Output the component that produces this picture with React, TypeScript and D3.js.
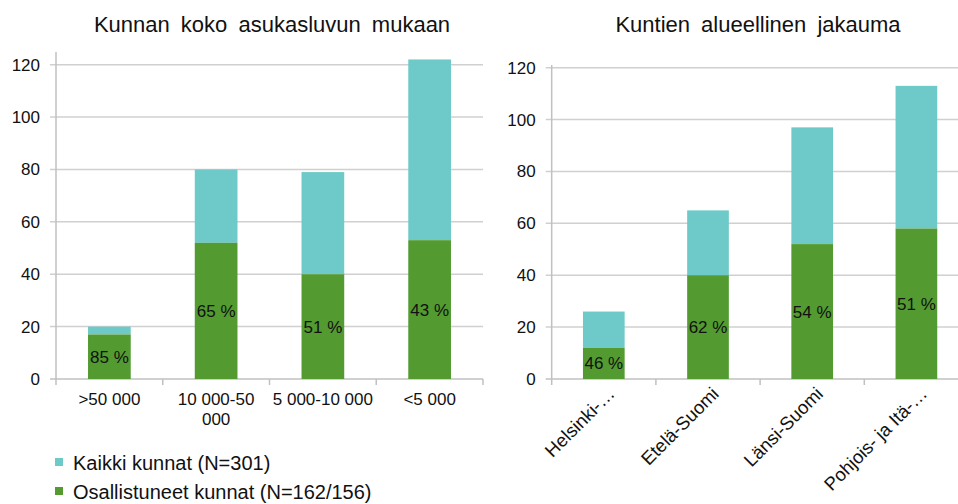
import React from "react";
import * as d3 from "d3";

const leftCategories = [">50 000", "10 000-50\n000", "5 000-10 000", "<5 000"];
const leftAll = [20, 80, 79, 122];
const leftPart = [17, 52, 40, 53];
const leftPct = ["85 %", "65 %", "51 %", "43 %"];

const rightCategories = ["Helsinki-…", "Etelä-Suomi", "Länsi-Suomi", "Pohjois- ja Itä-…"];
const rightAll = [26, 65, 97, 113];
const rightPart = [12, 40, 52, 58];
const rightPct = ["46 %", "62 %", "54 %", "51 %"];

const yTicks = [0, 20, 40, 60, 80, 100, 120];
const titles = ["Kunnan koko asukasluvun mukaan", "Kuntien alueellinen jakauma"];
const legendLabels = ["Kaikki kunnat (N=301)", "Osallistuneet kunnat (N=162/156)"];

const TEAL = "#6dcac8";
const GREEN = "#539b30";
const GRID = "#d0d0d0";
const AXIS = "#c0c0c0";
const FONT = "'Liberation Sans', Arial, sans-serif";

type PanelProps = {
  cats: string[];
  all: number[];
  part: number[];
  pct: string[];
  x0: number;
  x1: number;
  y0: number;
  y120: number;
  axisTop: number;
  gridRight: number;
  rotated: boolean;
  title: string;
  titleX: number;
};

function Panel(p: PanelProps) {
  const y = d3.scaleLinear().domain([0, 120]).range([p.y0, p.y120]);
  const x = d3.scaleBand<string>().domain(p.cats).range([p.x0, p.x1]).paddingInner(0.6).paddingOuter(0.3);
  const step = x.step();
  const boundaries = d3.range(p.cats.length + 1).map((i) => p.x0 + i * step);
  return (
    <g>
      <text x={p.titleX} y={32} textAnchor="middle" fontSize={22} fill="#111" style={{ wordSpacing: "5px" }}>
        {p.title}
      </text>
      {yTicks.map((t) => (
        <g key={t}>
          <line x1={p.x0 - 6} x2={p.gridRight} y1={y(t)} y2={y(t)} stroke={t === 0 ? AXIS : GRID} strokeWidth={1.5} />
          <text x={p.x0 - 16} y={y(t) + 6} textAnchor="end" fontSize={17} fill="#111">
            {t}
          </text>
        </g>
      ))}
      <line x1={p.x0} x2={p.x0} y1={p.axisTop} y2={p.y0} stroke={AXIS} strokeWidth={1.5} />
      {boundaries.map((b, i) => (
        <line key={i} x1={b} x2={b} y1={p.y0} y2={p.y0 + 6} stroke={AXIS} strokeWidth={1.5} />
      ))}
      {p.cats.map((c, i) => {
        const bx = x(c) as number;
        const bw = x.bandwidth();
        return (
          <g key={c}>
            <rect x={bx} y={y(p.all[i])} width={bw} height={y(p.part[i]) - y(p.all[i])} fill={TEAL} />
            <rect x={bx} y={y(p.part[i])} width={bw} height={y(0) - y(p.part[i])} fill={GREEN} />
            <text x={bx + bw / 2} y={(y(0) + y(p.part[i])) / 2 + 6} textAnchor="middle" fontSize={17} fill="#111">
              {p.pct[i]}
            </text>
          </g>
        );
      })}
      {p.cats.map((c, i) => {
        const cx = (x(c) as number) + x.bandwidth() / 2;
        if (p.rotated) {
          return (
            <text key={c} transform={`translate(${cx + 12},${p.y0 + 16}) rotate(-45)`} textAnchor="end" fontSize={18.5} fill="#111">
              {c}
            </text>
          );
        }
        const lines = c.split("\n");
        return (
          <text key={c} textAnchor="middle" fontSize={17} fill="#111">
            {lines.map((l, j) => (
              <tspan key={j} x={cx} y={p.y0 + 26 + j * 20}>
                {l}
              </tspan>
            ))}
          </text>
        );
      })}
    </g>
  );
}

export default function App() {
  return (
    <svg
      width={958}
      height={504}
      style={{ position: "absolute", left: 0, top: 0, background: "#fff" }}
      fontFamily={FONT}
    >
      <rect width={958} height={504} fill="#fff" />
      <Panel
        cats={leftCategories}
        all={leftAll}
        part={leftPart}
        pct={leftPct}
        x0={56}
        x1={483}
        y0={379}
        y120={64.7}
        axisTop={52}
        gridRight={483}
        rotated={false}
        title={titles[0]}
        titleX={272}
      />
      <Panel
        cats={rightCategories}
        all={rightAll}
        part={rightPart}
        pct={rightPct}
        x0={551.7}
        x1={968.5}
        y0={379}
        y120={67.7}
        axisTop={65}
        gridRight={958}
        rotated={true}
        title={titles[1]}
        titleX={758}
      />
      {legendLabels.map((l, i) => (
        <g key={l}>
          <rect x={55} y={458 + i * 29} width={8} height={8} fill={i === 0 ? TEAL : GREEN} />
          <text x={73} y={470 + i * 29} fontSize={20} fill="#111">
            {l}
          </text>
        </g>
      ))}
    </svg>
  );
}
